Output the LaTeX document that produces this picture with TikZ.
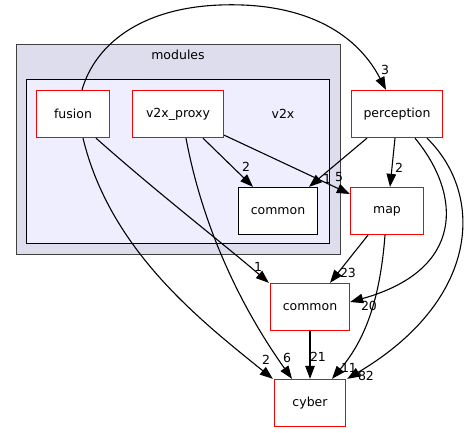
\documentclass[tikz,border=0pt]{standalone}
\usepackage{fontspec}
\setmainfont{DejaVu Sans}
\usetikzlibrary{arrows.meta}
\definecolor{modfill}{HTML}{DDDDEE}
\definecolor{v2xfill}{HTML}{EEEEFF}
\definecolor{modline}{HTML}{404040}
\definecolor{dirline}{HTML}{FF0000}
\begin{document}
\begin{tikzpicture}[x=1pt,y=-1pt,font=\fontsize{12.5}{15}\selectfont,
    dir/.style={draw=dirline,fill=white,line width=1.3pt,minimum width=#1,minimum height=47pt,inner sep=0pt},
    sub/.style={draw=black,fill=white,line width=1.3pt,minimum width=#1,minimum height=47pt,inner sep=0pt},
    dep/.style={-{Triangle[length=13pt,width=9.5pt]},line width=1.1pt},
    num/.style={inner sep=0pt}]
  \useasboundingbox (0,0) rectangle (472,432);
  % clusters
  \filldraw[fill=modfill,draw=modline,line width=1.3pt] (16.5,44.5) rectangle (340.5,254.5);
  \node (modules) at (178,55) {modules};
  \filldraw[fill=v2xfill,draw=black,line width=1.3pt] (26.5,79.5) rectangle (329.5,243.5);
  \node (v2x) at (283,114) {v2x};
  % directories
  \node[dir=73pt] (fusion) at (73,114) {fusion};
  \node[dir=91pt] (proxy) at (178,114) {v2x\_proxy};
  \node[sub=79pt] (common) at (278,211) {common};
  \node[dir=91pt] (perception) at (397,114) {perception};
  \node[dir=73pt] (map) at (387,211) {map};
  \node[dir=79pt] (cmn) at (310,307) {common};
  \node[dir=71pt] (cyber) at (310,403) {cyber};
  % dependencies
  \draw[dep] ([xshift=9pt]fusion.north) .. controls (95,45) and (140,8) .. (220,5)
    .. controls (300,2) and (355,30) .. ([xshift=-11pt]perception.north);
  \node[num] at (385,70) {3};
  \draw[dep] ([xshift=23pt]fusion.south) .. controls (160,195) and (225,245) .. ([xshift=-1pt]cmn.north west);
  \node[num] at (258,267) {1};
  \draw[dep] ([xshift=10pt]fusion.south) .. controls (110,250) and (200,320) .. ([xshift=-1pt]cyber.north west);
  \node[num] at (266,360) {2};
  \draw[dep] ([xshift=8pt]proxy.south) .. controls (205,240) and (250,320) .. ([xshift=-18pt]cyber.north);
  \node[num] at (287,358) {6};
  \draw[dep] ([xshift=25pt]proxy.south) -- ([xshift=-25pt]common.north);
  \node[num] at (246,167) {2};
  \draw[dep] ([yshift=3pt]proxy.south east) -- ([yshift=17pt]map.west);
  \node[num] at (339,177) {5};
  \draw[dep] ([xshift=-30pt]perception.south) -- ([xshift=31pt]common.north);
  \node[num] at (327,179) {1};
  \draw[dep] ([xshift=-2pt]perception.south) -- ([xshift=3pt]map.north);
  \node[num] at (399,168) {2};
  \draw[dep] ([xshift=18pt]perception.south) .. controls (462,195) and (465,270) .. ([yshift=5pt]cmn.east);
  \node[num] at (369,306) {20};
  \draw[dep] ([xshift=30pt]perception.south) .. controls (485,195) and (480,300) .. ([xshift=1pt]cyber.north east);
  \node[num] at (366,376) {82};
  \draw[dep] ([xshift=-19pt]map.south) -- ([xshift=20pt]cmn.north);
  \node[num] at (348,273) {23};
  \draw[dep] ([xshift=-2pt]map.south) .. controls (380,300) and (365,340) .. ([xshift=22pt]cyber.north);
  \node[num] at (349,368) {11};
  \draw[dep] (cmn) -- (cyber);
  \node[num] at (318,357) {21};
\end{tikzpicture}
\end{document}
